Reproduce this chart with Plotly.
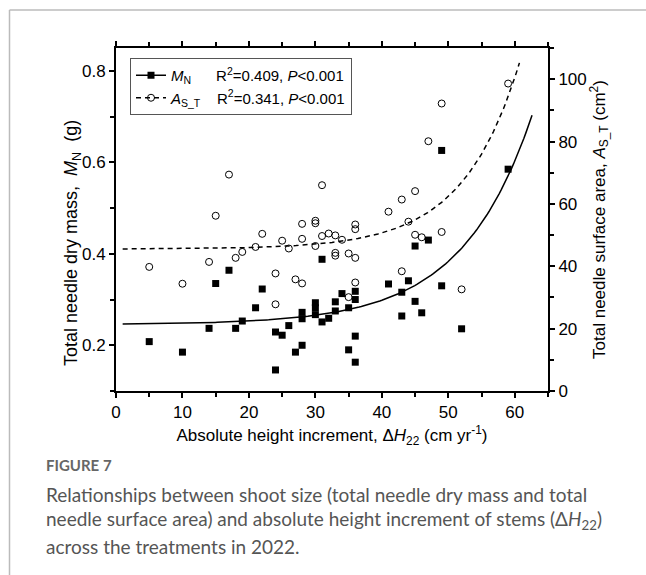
import numpy as np
import plotly.graph_objects as go

# ---- data ----
mn_x = [5, 10, 14, 15, 17, 18, 19, 21, 22, 24, 24, 25, 26, 27, 28, 28, 28, 30, 30, 30,
        31, 31, 32, 33, 33, 34, 35, 35, 36, 36, 36, 36, 41, 43, 43, 44, 45, 45, 46, 47,
        49, 49, 52, 59]
mn_y = [0.208, 0.185, 0.237, 0.335, 0.364, 0.237, 0.253, 0.282, 0.323, 0.229, 0.146,
        0.222, 0.243, 0.185, 0.272, 0.258, 0.200, 0.293, 0.282, 0.267, 0.388, 0.251,
        0.259, 0.295, 0.275, 0.313, 0.282, 0.190, 0.318, 0.300, 0.220, 0.163, 0.334,
        0.316, 0.264, 0.341, 0.417, 0.296, 0.271, 0.430, 0.626, 0.330, 0.236, 0.585]

as_x = [5, 10, 14, 15, 17, 18, 19, 21, 22, 24, 24, 25, 26, 27, 28, 28, 28, 30, 30, 30,
        31, 31, 32, 33, 33, 33, 34, 35, 35, 36, 36, 36, 36, 41, 43, 43, 44, 45, 45, 46,
        47, 49, 49, 52, 59]
as_y = [39.8, 34.4, 41.4, 56.2, 69.4, 42.7, 44.6, 46.2, 50.4, 37.7, 27.8, 48.2, 45.7,
        35.8, 53.6, 48.8, 34.5, 54.6, 53.8, 46.5, 66.0, 49.7, 50.5, 49.9, 44.3, 43.4,
        48.5, 44.1, 30.1, 53.4, 51.9, 42.7, 34.8, 57.5, 61.4, 38.4, 54.3, 64.1, 50.1,
        49.3, 80.1, 92.2, 51.0, 32.6, 98.6]

# exponential fits y = a + b*exp(c*x) (parameters)
mn_fit = dict(a=0.245, b=0.00119, c=0.0951, x0=1.0, x1=62.6)
as_fit = dict(a=45.5, b=0.0463, c=0.118, x0=1.0, x1=60.7)

legend_mn = "<i>M</i><sub>N</sub>      R<sup>2</sup>=0.409, <i>P</i><0.001"
legend_as = "<i>A</i><sub>S_T</sub>    R<sup>2</sup>=0.341, <i>P</i><0.001"

x_title = "Absolute height increment, Δ<i>H</i><sub>22</sub> (cm yr<sup>-1</sup>)"
y_title = "Total needle dry mass,\u00a0\u00a0<i>M</i><sub>N</sub>\u00a0\u00a0(g)"
y2_title = "Total needle surface area, <i>A</i><sub>S_T</sub> (cm<sup>2</sup>)"

caption_head = "FIGURE 7"
caption_lines = [
    "Relationships between shoot size (total needle dry mass and total",
    "needle surface area) and absolute height increment of stems (Δ<i>H</i><sub>22</sub>)",
    "across the treatments in 2022.",
]

# ---- layout geometry (pixels) ----
W, H = 646, 575
L, R, T, B = 116, 548, 48, 391


def px(x):
    return (x - L) / (R - L)


def py(y):
    return (B - y) / (B - T)


def curve(p):
    xs = np.linspace(p["x0"], p["x1"], 200)
    return xs, p["a"] + p["b"] * np.exp(p["c"] * xs)


AX = "Liberation Sans, Arial, sans-serif"

fig = go.Figure()

cx, cy = curve(mn_fit)
fig.add_trace(go.Scatter(x=cx, y=cy, mode="lines", line=dict(color="black", width=1.5),
                         showlegend=False, hoverinfo="skip"))
cx2, cy2 = curve(as_fit)
fig.add_trace(go.Scatter(x=cx2, y=cy2, mode="lines", yaxis="y2",
                         line=dict(color="black", width=1.5, dash="5px,4px"),
                         showlegend=False, hoverinfo="skip"))

fig.add_trace(go.Scatter(x=mn_x, y=mn_y, mode="markers",
                         marker=dict(symbol="square", size=7, color="black"),
                         showlegend=False))
fig.add_trace(go.Scatter(x=as_x, y=as_y, mode="markers", yaxis="y2",
                         marker=dict(symbol="circle-open", size=7, color="black",
                                     line=dict(width=1)),
                         showlegend=False))

# legend entries
fig.add_trace(go.Scatter(x=[None], y=[None], mode="lines+markers", name=legend_mn,
                         marker=dict(symbol="square", size=7, color="black"),
                         line=dict(color="black", width=1.5)))
fig.add_trace(go.Scatter(x=[None], y=[None], mode="lines+markers", name=legend_as,
                         yaxis="y2",
                         marker=dict(symbol="circle-open", size=7, color="black",
                                     line=dict(width=1)),
                         line=dict(color="black", width=1.5, dash="5px,4px")))

axis_common = dict(showgrid=False, zeroline=False, showline=True, linecolor="black",
                   linewidth=2, ticks="outside", ticklen=5, tickwidth=1.5,
                   tickcolor="black", tickfont=dict(family=AX, size=17, color="black"))

fig.update_layout(
    width=W, height=H,
    margin=dict(l=L, r=W - R, t=T, b=H - B),
    paper_bgcolor="white", plot_bgcolor="white",
    font=dict(family=AX, color="black"),
    xaxis=dict(range=[0, 65], dtick=10, tick0=0, mirror="ticks",
               minor=dict(dtick=5, ticks="outside", ticklen=4, tickwidth=1.5,
                          tickcolor="black"),
               title=dict(text=x_title, font=dict(family=AX, size=17), standoff=8),
               **axis_common),
    yaxis=dict(range=[0.1, 0.85], dtick=0.2, tick0=0.2, tickformat=".1f",
               minor=dict(dtick=0.1, ticks="outside", ticklen=4, tickwidth=1.5,
                          tickcolor="black"),
               **axis_common),
    yaxis2=dict(range=[0, 110], dtick=20, tick0=0, overlaying="y", side="right",
                minor=dict(dtick=10, ticks="outside", ticklen=4, tickwidth=1.5,
                           tickcolor="black"),
                title=dict(text=y2_title, font=dict(family=AX, size=17), standoff=6),
                **axis_common),
    legend=dict(x=px(130), y=py(58), xanchor="left", yanchor="top",
                bgcolor="white", bordercolor="#555", borderwidth=1,
                font=dict(family=AX, size=15, color="black"),
                itemwidth=30, tracegroupgap=0),
    showlegend=True,
)

# left axis title (placed as in the reference, a little below the axis centre)
fig.add_annotation(text=y_title, xref="paper", yref="paper", x=px(72), y=py(243),
                   xanchor="center", yanchor="middle", textangle=-90, showarrow=False,
                   font=dict(family=AX, size=18, color="black"))

# frame around the figure block
fig.add_shape(type="line", xref="paper", yref="paper",
              x0=px(9.5), x1=px(9.5), y0=py(10), y1=py(600),
              line=dict(color="#bbbbbb", width=1.5))
fig.add_shape(type="line", xref="paper", yref="paper",
              x0=px(9.5), x1=px(700), y0=py(10), y1=py(10),
              line=dict(color="#bbbbbb", width=1.5))

CAP = "Lato, Open Sans, sans-serif"
fig.add_annotation(text="<b>" + caption_head + "</b>", xref="paper", yref="paper",
                   x=px(44), y=py(465), xanchor="left", yanchor="middle",
                   showarrow=False, font=dict(family=CAP, size=15, color="#666666"))
for i, line in enumerate(caption_lines):
    fig.add_annotation(text=line, xref="paper", yref="paper",
                       x=px(44), y=py(494 + 26 * i), xanchor="left", yanchor="middle",
                       showarrow=False, font=dict(family=CAP, size=19, color="#555555"))

fig.write_html("out.html")
